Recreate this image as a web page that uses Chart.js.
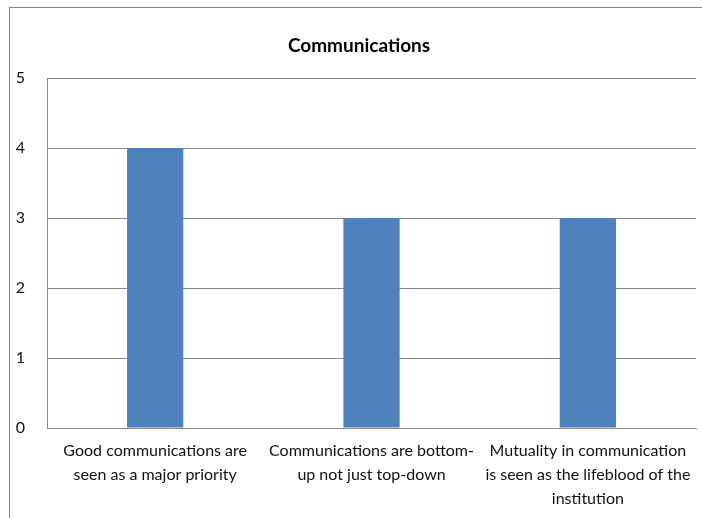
<!DOCTYPE html>
<html>
<head>
<meta charset="utf-8">
<script src="https://cdn.jsdelivr.net/npm/chart.js@4.4.1/dist/chart.umd.min.js"></script>
<style>
  html, body { margin: 0; padding: 0; background: #fff; }
  #wrap { position: relative; width: 702px; height: 518px; overflow: hidden; }
  /* chart frame: only left and top edges fall inside the page */
  #frame { position: absolute; left: 9px; top: 7px; width: 800px; height: 600px;
           border-left: 1px solid #8a8a8a; border-top: 1px solid #8a8a8a; pointer-events: none; }
  canvas { position: absolute; left: 0; top: 0; }
</style>
</head>
<body>
<div id="wrap">
  <canvas id="chart-comms" width="702" height="518"></canvas>
  <div id="frame"></div>
</div>
<script>
// Données du graphique
const categories = [
    ['Good communications are', 'seen as a major priority'],
    ['Communications are bottom-', 'up not just top-down'],
    ['Mutuality in communication', 'is seen as the lifeblood of the', 'institution']
];
const scores = [4, 3, 3];
const yTicks = [0, 1, 2, 3, 4, 5];
const chartTitle = 'Communications';

const fontFamily = 'Lato, "Open Sans", sans-serif';

// Titre centré sur le cadre entier (et non sur la zone du graphique)
const frameTitle = {
    id: 'frameTitle',
    afterDraw(chart) {
        const c = chart.ctx;
        c.save();
        c.font = 'bold 19px ' + fontFamily;
        c.fillStyle = '#000';
        c.textAlign = 'center';
        c.textBaseline = 'middle';
        c.fillText(chartTitle, 359, 46);
        c.restore();
    }
};

const ctx = document.getElementById('chart-comms').getContext('2d');
const commsChart = new Chart(ctx, {
    type: 'bar',
    data: {
        labels: categories,
        datasets: [{
            label: chartTitle,
            data: scores,
            backgroundColor: '#4f81bd',
            borderWidth: 0,
            categoryPercentage: 1,
            barPercentage: 0.26
        }]
    },
    options: {
        responsive: false,
        animation: false,
        layout: { padding: { left: 0, right: 4, top: 78, bottom: 0 } },
        plugins: {
            legend: { display: false },
            tooltip: { enabled: false },
            title: { display: false }
        },
        scales: {
            x: {
                grid: { display: false, drawTicks: false },
                border: { display: true, color: '#8a8a8a', width: 1 },
                ticks: {
                    color: '#111',
                    padding: 11,
                    maxRotation: 0,
                    autoSkip: false,
                    font: { family: fontFamily, size: 16, lineHeight: 1.5 }
                },
                afterFit: (scale) => { scale.height = 90; }
            },
            y: {
                min: 0,
                max: 5,
                afterBuildTicks: (scale) => { scale.ticks = yTicks.map(v => ({ value: v })); },
                grid: { color: '#8a8a8a', drawTicks: false },
                border: { display: true, color: '#8a8a8a', width: 1 },
                ticks: {
                    color: '#111',
                    padding: 22,
                    font: { family: fontFamily, size: 16 }
                },
                afterFit: (scale) => { scale.width = 47; }
            }
        }
    },
    plugins: [frameTitle]
});
</script>
</body>
</html>
